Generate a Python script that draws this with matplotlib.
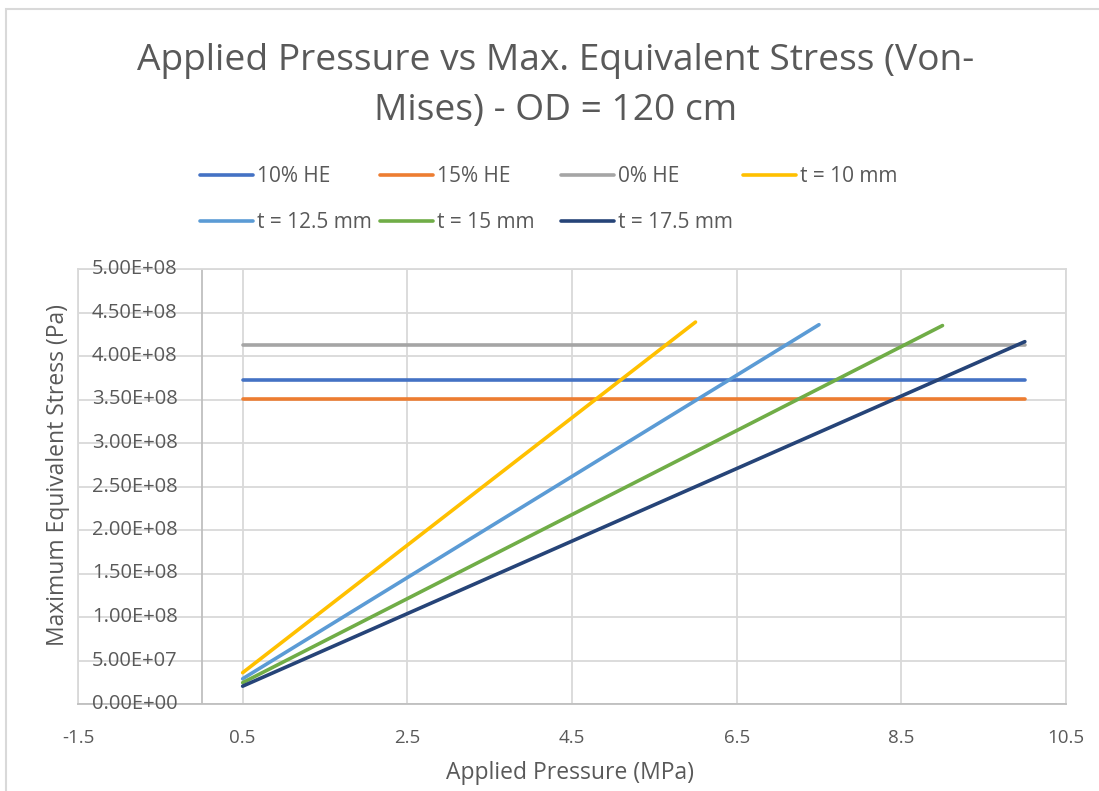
import matplotlib.pyplot as plt
from matplotlib.patches import Rectangle

plt.rcParams['font.family'] = ['Open Sans', 'DejaVu Sans']

# horizontal reference lines (allowable stress), from 0.5 to 10 MPa
he_pressure = [0.5, 10]
he_10 = [3.72e8, 3.72e8]
he_15 = [3.51e8, 3.51e8]
he_0 = [4.13e8, 4.13e8]

# wall thickness series: applied pressure (MPa) vs max equivalent stress (Pa)
p_10 = [0.5, 6.0]
s_10 = [3.6e7, 4.39e8]
p_125 = [0.5, 7.5]
s_125 = [2.9e7, 4.36e8]
p_15 = [0.5, 9.0]
s_15 = [2.45e7, 4.35e8]
p_175 = [0.5, 10.0]
s_175 = [2.05e7, 4.165e8]

x_ticks = [-1.5, 0.5, 2.5, 4.5, 6.5, 8.5, 10.5]
y_ticks = [i * 5e7 for i in range(11)]

text_color = '#595959'
grid_color = '#d9d9d9'
W, H = 1099, 791

fig = plt.figure(figsize=(W / 100, H / 100), dpi=100)
ax = fig.add_axes([78 / W, 1 - 704 / H, (1066 - 78) / W, (704 - 269) / H])

kw = dict(lw=2.6, solid_capstyle='round')
l1, = ax.plot(he_pressure, he_10, color='#4472c4', label='10% HE', **kw)
l2, = ax.plot(he_pressure, he_15, color='#ed7d31', label='15% HE', **kw)
l3, = ax.plot(he_pressure, he_0, color='#a5a5a5', label='0% HE', **kw)
l4, = ax.plot(p_10, s_10, color='#ffc000', label='t = 10 mm', **kw)
l5, = ax.plot(p_125, s_125, color='#5b9bd5', label='t = 12.5 mm', **kw)
l6, = ax.plot(p_15, s_15, color='#70ad47', label='t = 15 mm', **kw)
l7, = ax.plot(p_175, s_175, color='#264478', label='t = 17.5 mm', **kw)

ax.set_xlim(-1.5, 10.5)
ax.set_ylim(0, 5e8)
ax.set_xticks(x_ticks)
ax.set_xticklabels([f"{v:g}" for v in x_ticks])
ax.set_yticks(y_ticks)
ax.set_yticklabels([])
ax.grid(True, color=grid_color, lw=1.3)
ax.set_axisbelow(True)
ax.tick_params(length=0, labelsize=13.5, labelcolor=text_color)
ax.tick_params(axis='x', pad=18)

# y tick labels sit next to the vertical axis, which crosses at x = 0
for v in y_ticks:
    ax.annotate(f"{v:.2E}", xy=(0, v), xycoords='data', xytext=(-24, 0),
                textcoords='offset pixels', ha='right', va='center',
                fontsize=14.5, color=text_color)

for side in ['top', 'right', 'left']:
    ax.spines[side].set_color(grid_color)
    ax.spines[side].set_linewidth(1.3)
ax.spines['bottom'].set_color('#bfbfbf')
ax.spines['bottom'].set_linewidth(1.3)
ax.axvline(0, color='#bfbfbf', lw=1.3, zorder=1)

fig.text(570 / W, 1 - 773 / H, 'Applied Pressure (MPa)', ha='center', va='center',
         fontsize=16.5, color=text_color)
fig.text(58 / W, 1 - 475 / H, 'Maximum Equivalent Stress (Pa)', ha='center', va='center',
         rotation=90, fontsize=16.5, color=text_color)

fig.text(556 / W, 1 - 86 / H, 'Applied Pressure vs Max. Equivalent Stress (Von-\nMises) - OD = 120 cm',
         ha='center', va='center', fontsize=26.7, color=text_color, linespacing=1.5)

# legend: four equal-width columns, filled row by row
columns = [[l1, l5], [l2, l6], [l3, l7], [l4]]
col_x = [200, 380, 561, 743]
for handles, x in zip(columns, col_x):
    fig.legend(handles, [h.get_label() for h in handles], loc='upper left',
               bbox_to_anchor=(x / W, 1 - 166 / H), frameon=False, fontsize=15,
               labelcolor=text_color, handlelength=2.55, handletextpad=0.2,
               labelspacing=1.2, borderaxespad=0, borderpad=0)

# chart border (cropped at right and bottom)
fig.patches.append(Rectangle((6 / W, -0.1), 1.2, 1 - 9 / H + 0.1, transform=fig.transFigure,
                             fill=False, edgecolor='#d9d9d9', lw=1.5))

fig.savefig('out.png', dpi=100)
